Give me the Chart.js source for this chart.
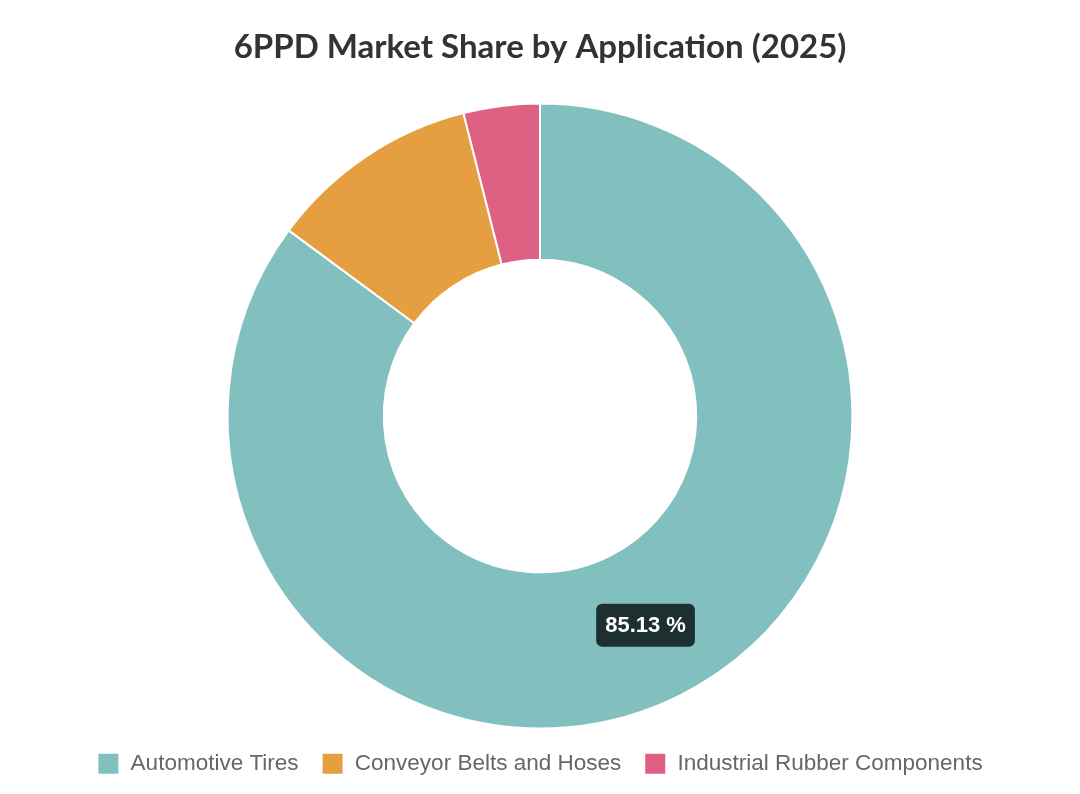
<!DOCTYPE html>
<html>
<head>
<meta charset="utf-8">
<script src="https://cdn.jsdelivr.net/npm/chart.js@4/dist/chart.umd.min.js"></script>
<style>
  html, body { margin: 0; padding: 0; background: #fff; }
  #wrap { width: 1080px; height: 794px; }
</style>
</head>
<body>
<div id="wrap"><canvas id="myChart"></canvas></div>
<script>
// Datos del gráfico
var categorias = ['Automotive Tires', 'Conveyor Belts and Hoses', 'Industrial Rubber Components'];
var valores = [85.13, 10.93, 3.94];
var colores = ['#82c0c0', '#e59f41', '#de6183'];

// Etiqueta dentro del segmento más grande
var etiquetaPlugin = {
  id: 'etiqueta',
  afterDatasetsDraw: function (chart) {
    var ctx = chart.ctx;
    var arc = chart.getDatasetMeta(0).data[0];
    var pos = arc.tooltipPosition();
    var texto = valores[0].toFixed(2) + ' %';
    ctx.save();
    ctx.font = 'bold 22px "Liberation Sans", Arial, sans-serif';
    var w = ctx.measureText(texto).width + 18;
    var h = 43;
    ctx.fillStyle = '#1e2f2f';
    ctx.beginPath();
    ctx.roundRect(pos.x - w / 2, pos.y - h / 2, w, h, 6);
    ctx.fill();
    ctx.fillStyle = '#ffffff';
    ctx.textAlign = 'center';
    ctx.textBaseline = 'middle';
    ctx.fillText(texto, pos.x, pos.y + 1);
    ctx.restore();
  }
};

var ctx = document.getElementById('myChart').getContext('2d');
var myChart = new Chart(ctx, {
  type: 'doughnut',
  data: {
    labels: categorias,
    datasets: [{
      data: valores,
      backgroundColor: colores,
      borderColor: '#ffffff',
      borderWidth: 2
    }]
  },
  options: {
    responsive: true,
    maintainAspectRatio: false,
    animation: false,
    cutout: '50%',
    layout: { padding: { top: 0, bottom: 9 } },
    plugins: {
      title: {
        display: true,
        text: '6PPD Market Share by Application (2025)',
        color: '#333333',
        font: { family: 'Lato, "Open Sans", sans-serif', size: 33, weight: 'bold' },
        padding: { top: 28, bottom: 35 }
      },
      legend: {
        position: 'bottom',
        labels: {
          color: '#666666',
          font: { family: '"Liberation Sans", Arial, sans-serif', size: 22.5 },
          boxWidth: 22,
          boxHeight: 22,
          padding: 23
        }
      },
      tooltip: { enabled: false }
    }
  },
  plugins: [etiquetaPlugin]
});
</script>
</body>
</html>
